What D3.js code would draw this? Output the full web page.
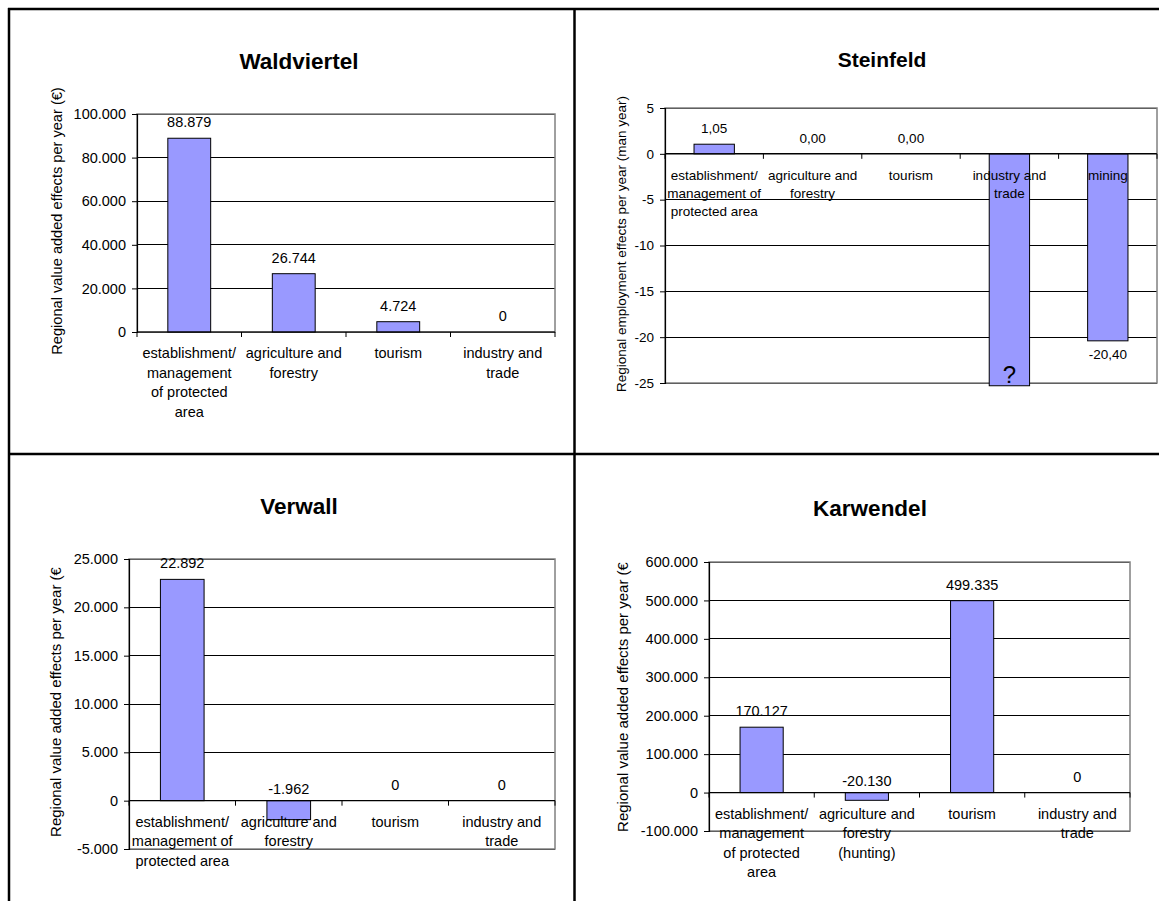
<!DOCTYPE html>
<html>
<head>
<meta charset="utf-8">
<script src="https://cdn.jsdelivr.net/npm/d3@7"></script>
<style>
  html, body { margin: 0; padding: 0; background: #fff; }
  svg { display: block; font-family: "Liberation Sans", Arial, sans-serif; }
</style>
</head>
<body>
<svg id="chart" width="1159" height="901"></svg>
<script>
// ---- Data -------------------------------------------------------------
const waldTitle = "Waldviertel";
const waldCategories = [
  ["establishment/", "management", "of protected", "area"],
  ["agriculture and", "forestry"],
  ["tourism"],
  ["industry and", "trade"]
];
const waldValues = [88879, 26744, 4724, 0];
const waldTicks = [0, 20000, 40000, 60000, 80000, 100000];

const steinTitle = "Steinfeld";
const steinCategories = [
  ["establishment/", "management of", "protected area"],
  ["agriculture and", "forestry"],
  ["tourism"],
  ["industry and", "trade"],
  ["mining"]
];
const steinValues = [1.05, 0, 0, -25.3, -20.4];
const steinValueText = [null, null, null, "?", null];   // "?" = figure not known
const steinTicks = [-25, -20, -15, -10, -5, 0, 5];

const verwallTitle = "Verwall";
const verwallCategories = [
  ["establishment/", "management of", "protected area"],
  ["agriculture and", "forestry"],
  ["tourism"],
  ["industry and", "trade"]
];
const verwallValues = [22892, -1962, 0, 0];
const verwallTicks = [-5000, 0, 5000, 10000, 15000, 20000, 25000];

const karwTitle = "Karwendel";
const karwCategories = [
  ["establishment/", "management", "of protected", "area"],
  ["agriculture and", "forestry", "(hunting)"],
  ["tourism"],
  ["industry and", "trade"]
];
const karwValues = [170127, -20130, 499335, 0];
const karwTicks = [-100000, 0, 100000, 200000, 300000, 400000, 500000, 600000];

const valueAxisTitle = "Regional value added effects per year (\u20AC)";
const employmentAxisTitle = "Regional employment effects per year (man year)";

// ---- Number formats (German style: "." thousands, "," decimals) -------
const de = d3.formatLocale({ decimal: ",", thousands: ".", grouping: [3], currency: ["", " \u20AC"], minus: "-" });
const fmtInt = de.format(",.0f");
const fmt2 = de.format(".2f");

// ---- Panels -----------------------------------------------------------
const panels = [
  { title: waldTitle, titleSize: 22.5, titleX: 299, titleY: 69, cats: waldCategories, values: waldValues,
    ticks: waldTicks, fmt: fmtInt, axisTitle: valueAxisTitle, axisTitleX: 57, axisTitleY: 221, axisTitleSize: 14.6,
    plot: { x0: 137, x1: 555, y0: 114, y1: 332 }, font: 14.5, negLabel: "base" },
  { title: steinTitle, titleSize: 21, titleX: 882, titleY: 67, cats: steinCategories, values: steinValues,
    valueText: steinValueText,
    ticks: steinTicks, fmt: fmt2, tickFmt: de.format("d"), axisTitle: employmentAxisTitle,
    axisTitleX: 621, axisTitleY: 244, axisTitleSize: 13.5,
    plot: { x0: 665, x1: 1157, y0: 108, y1: 383 }, font: 13.5, negLabel: "end", lineGap: 18 },
  { title: verwallTitle, titleSize: 22.5, titleX: 299, titleY: 514, cats: verwallCategories, values: verwallValues,
    ticks: verwallTicks, fmt: fmtInt, axisTitle: valueAxisTitle, axisTitleX: 56, axisTitleY: 699.5, axisTitleSize: 15,
    titleClipTop: 567.5,
    plot: { x0: 129, x1: 555, y0: 559, y1: 849 }, font: 14.5, negLabel: "base" },
  { title: karwTitle, titleSize: 22.5, titleX: 870, titleY: 516, cats: karwCategories, values: karwValues,
    ticks: karwTicks, fmt: fmtInt, axisTitle: valueAxisTitle, axisTitleX: 623, axisTitleY: 694.5, axisTitleSize: 15,
    titleClipTop: 562.5,
    plot: { x0: 709, x1: 1130, y0: 562, y1: 831 }, font: 14.5, negLabel: "base" }
];

const svg = d3.select("#chart");
svg.append("rect").attr("width", 1159).attr("height", 901).attr("fill", "#fff");
const defs = svg.append("defs");

// Table frame around the four charts
const frame = svg.append("g").attr("stroke", "#000").attr("stroke-width", 2.5);
frame.append("line").attr("x1", 9).attr("x2", 9).attr("y1", 8).attr("y2", 901);
frame.append("line").attr("x1", 8).attr("x2", 1159).attr("y1", 9).attr("y2", 9);
frame.append("line").attr("x1", 574.5).attr("x2", 574.5).attr("y1", 9).attr("y2", 901);
frame.append("line").attr("x1", 9).attr("x2", 1159).attr("y1", 454).attr("y2", 454);

panels.forEach((p, k) => drawPanel(p, k));

function drawPanel(p, k) {
  const g = svg.append("g");
  const { x0, x1, y0, y1 } = p.plot;
  const fs = p.font;

  const y = d3.scaleLinear()
    .domain([d3.min(p.ticks), d3.max(p.ticks)])
    .range([y1, y0]);

  const x = d3.scaleBand()
    .domain(d3.range(p.values.length))
    .range([x0, x1])
    .paddingInner(0.59)
    .paddingOuter(0.295);

  // Title
  g.append("text")
    .attr("x", p.titleX).attr("y", p.titleY)
    .attr("text-anchor", "middle")
    .attr("font-weight", "bold")
    .attr("font-size", p.titleSize)
    .text(p.title);

  // Horizontal gridlines
  g.append("g").selectAll("line")
    .data(p.ticks)
    .join("line")
    .attr("x1", x0).attr("x2", x1)
    .attr("y1", d => y(d)).attr("y2", d => y(d))
    .attr("stroke", "#000").attr("stroke-width", 1)
    .attr("shape-rendering", "crispEdges");

  // Plot area border
  g.append("rect")
    .attr("x", x0).attr("y", y0)
    .attr("width", x1 - x0).attr("height", y1 - y0)
    .attr("fill", "none").attr("stroke", "#808080").attr("stroke-width", 1.5);

  // Bars
  g.append("g").selectAll("rect")
    .data(p.values)
    .join("rect")
    .attr("x", (d, i) => x(i))
    .attr("width", x.bandwidth())
    .attr("y", d => y(Math.max(0, d)))
    .attr("height", d => Math.abs(y(d) - y(0)))
    .attr("fill", "#9999ff")
    .attr("stroke", "#000").attr("stroke-width", 1);

  // Category axis at zero, ticks on category boundaries
  const cat = g.append("g");
  cat.append("line")
    .attr("x1", x0).attr("x2", x1)
    .attr("y1", y(0)).attr("y2", y(0))
    .attr("stroke", "#000").attr("stroke-width", 1.2);
  cat.selectAll("line.tick")
    .data(d3.range(p.values.length + 1))
    .join("line")
    .attr("class", "tick")
    .attr("x1", i => x0 + i * x.step()).attr("x2", i => x0 + i * x.step())
    .attr("y1", y(0)).attr("y2", y(0) + 5)
    .attr("stroke", "#000").attr("stroke-width", 1);

  // Value axis
  const yAxis = d3.axisLeft(y)
    .tickValues(p.ticks)
    .tickFormat(p.tickFmt || fmtInt)
    .tickSize(5)
    .tickPadding(6);
  const ya = g.append("g").attr("transform", `translate(${x0},0)`).call(yAxis);
  ya.select(".domain").attr("stroke", "#000").attr("stroke-width", 1.2);
  ya.selectAll(".tick line").attr("stroke", "#000");
  ya.selectAll(".tick text")
    .attr("font-size", fs)
    .attr("font-family", "Liberation Sans, Arial, sans-serif")
    .attr("fill", "#000");

  // Value labels
  g.append("g").selectAll("text")
    .data(p.values)
    .join("text")
    .attr("x", (d, i) => x(i) + x.bandwidth() / 2)
    .attr("y", (d, i) => {
      if (p.valueText && p.valueText[i] === "?") return y(d) - 11;
      if (d >= 0) return y(d) - 16;
      return p.negLabel === "end" ? y(d) + 13 : y(0) - 12;
    })
    .attr("dy", "0.35em")
    .attr("text-anchor", "middle")
    .attr("font-size", (d, i) => (p.valueText && p.valueText[i] === "?") ? 24 : fs)
    .text((d, i) => (p.valueText && p.valueText[i]) ? p.valueText[i] : p.fmt(d));

  // Category labels (wrapped lines)
  const gap = p.lineGap || 19.5;
  const cl = g.append("g").selectAll("text")
    .data(p.cats)
    .join("text")
    .attr("text-anchor", "middle")
    .attr("font-size", fs);
  cl.selectAll("tspan")
    .data((lines, i) => lines.map(t => ({ t, i })))
    .join("tspan")
    .attr("x", d => x0 + (d.i + 0.5) * x.step())
    .attr("y", (d, j) => y(0) + 21 + j * gap)
    .attr("dy", "0.35em")
    .text(d => d.t);

  // Value axis title (cut off at the chart-area edge where it overruns)
  const holder = g.append("g");
  if (p.titleClipTop != null) {
    const id = "axis-title-clip-" + k;
    defs.append("clipPath").attr("id", id)
      .append("rect")
      .attr("x", p.axisTitleX - 20).attr("y", p.titleClipTop)
      .attr("width", 40).attr("height", 400);
    holder.attr("clip-path", `url(#${id})`);
  }
  holder.append("text")
    .attr("transform", `translate(${p.axisTitleX},${p.axisTitleY}) rotate(-90)`)
    .attr("text-anchor", "middle")
    .attr("dy", "0.35em")
    .attr("font-size", p.axisTitleSize)
    .text(p.axisTitle);
}
</script>
</body>
</html>
